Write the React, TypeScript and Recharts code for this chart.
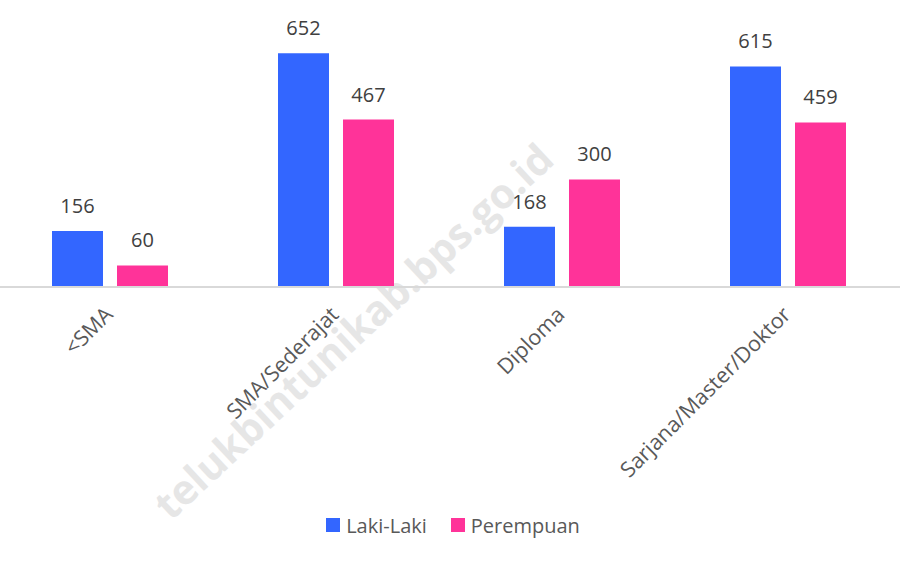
import { BarChart, Bar, XAxis, YAxis, Legend, LabelList } from "recharts"

const categories = ["<SMA", "SMA/Sederajat", "Diploma", "Sarjana/Master/Doktor"]
const lakiLaki = [156, 652, 168, 615]
const perempuan = [60, 467, 300, 459]

const BLUE = "#3366ff"
const PINK = "#ff3399"
const FONT = "'Open Sans', sans-serif"

const data = categories.map((name, i) => ({
  name,
  laki: lakiLaki[i],
  perempuan: perempuan[i],
}))

function RotatedTick(props: any) {
  const { x, y, payload } = props
  return (
    <g transform={`translate(${x + 4},${y + 29})`}>
      <text
        textAnchor="end"
        transform="rotate(-45)"
        fill="#595959"
        fontSize={21.5}
        fontFamily={FONT}
      >
        {payload.value}
      </text>
    </g>
  )
}

function LegendContent() {
  const items = [
    { label: "Laki-Laki", color: BLUE },
    { label: "Perempuan", color: PINK },
  ]
  return (
    <div
      style={{
        display: "flex",
        justifyContent: "center",
        alignItems: "center",
        height: 30,
        paddingLeft: 8,
        fontFamily: FONT,
        fontSize: 20,
        color: "#595959",
      }}
    >
      {items.map((it, i) => (
        <div
          key={it.label}
          style={{ display: "flex", alignItems: "center", marginLeft: i ? 24 : 0 }}
        >
          <span
            style={{ width: 14, height: 14, background: it.color, marginRight: 6, display: "inline-block" }}
          />
          <span>{it.label}</span>
        </div>
      ))}
    </div>
  )
}

export default function App() {
  return (
    <div style={{ position: "absolute", left: 0, top: 0, width: 900, height: 561, background: "#fff" }}>
      <svg width={900} height={561} style={{ position: "absolute", left: 0, top: 0 }}>
        <text
          x={356}
          y={334}
          textAnchor="middle"
          dominantBaseline="middle"
          transform="rotate(-43 356 334)"
          fill="#e6e6e6"
          fontSize={41}
          fontWeight="bold"
          fontFamily={FONT}
        >
          telukbintunikab.bps.go.id
        </text>
      </svg>
      <div style={{ position: "absolute", left: 0, top: 0 }}>
        <BarChart
          width={900}
          height={561}
          data={data}
          margin={{ top: 36, right: -1, left: -3, bottom: 21 }}
          barSize={51}
          barGap={14}
        >
          <XAxis
            dataKey="name"
            height={223}
            interval={0}
            tickLine={false}
            tickSize={0}
            tickMargin={0}
            axisLine={{ stroke: "#d9d9d9", strokeWidth: 2 }}
            tick={<RotatedTick />}
          />
          <YAxis hide domain={[0, 700]} />
          <Legend verticalAlign="bottom" content={<LegendContent />} />
          <Bar dataKey="laki" name="Laki-Laki" fill={BLUE} isAnimationActive={false}>
            <LabelList dataKey="laki" position="top" offset={18} fill="#404040" fontSize={20} fontFamily={FONT} />
          </Bar>
          <Bar dataKey="perempuan" name="Perempuan" fill={PINK} isAnimationActive={false}>
            <LabelList dataKey="perempuan" position="top" offset={18} fill="#404040" fontSize={20} fontFamily={FONT} />
          </Bar>
        </BarChart>
      </div>
    </div>
  )
}
